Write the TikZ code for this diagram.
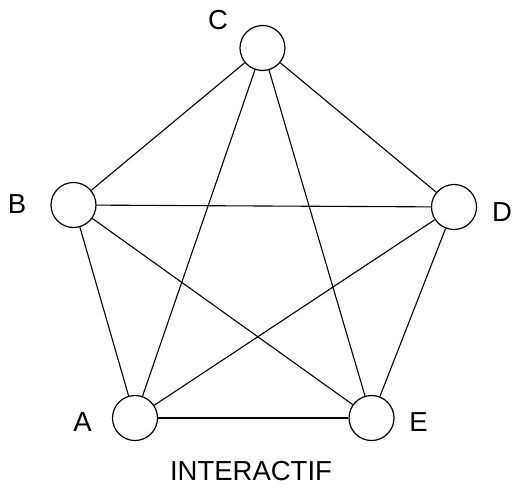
\documentclass[tikz,border=0pt]{standalone}
\usepackage{fontspec}
\setmainfont{Liberation Sans}
\usetikzlibrary{positioning}
\tikzset{
  vertex/.style={circle,draw,line width=1.2pt,minimum size=45pt,inner sep=0pt},
  lbl/.style={font=\fontsize{27.5}{33}\selectfont,inner sep=0pt}
}
\begin{document}
\begin{tikzpicture}[x=1pt,y=-1pt,line width=1.1pt]
    \useasboundingbox (0,0) rectangle (513,487);
    \node[vertex] (C) at (262.5,48) {};
    \node[vertex] (B) at (73.5,205) {};
    \node[vertex] (D) at (454,207) {};
    \node[vertex] (A) at (135,418) {};
    \node[vertex] (E) at (371.5,418) {};

    \node[lbl] (labC) at (218,20) {C};
    \node[lbl] (labB) at (17,204) {B};
    \node[lbl] (labD) at (502,212) {D};
    \node[lbl] (labA) at (82.5,422) {A};
    \node[lbl] (labE) at (418.5,422) {E};
    \node[lbl] (title) at (251,471) {INTERACTIF};

    \foreach \u/\v in {A/B,A/C,A/D,A/E,B/C,B/D,B/E,C/D,C/E,D/E}
        \draw (\u) -- (\v);
\end{tikzpicture}
\end{document}
